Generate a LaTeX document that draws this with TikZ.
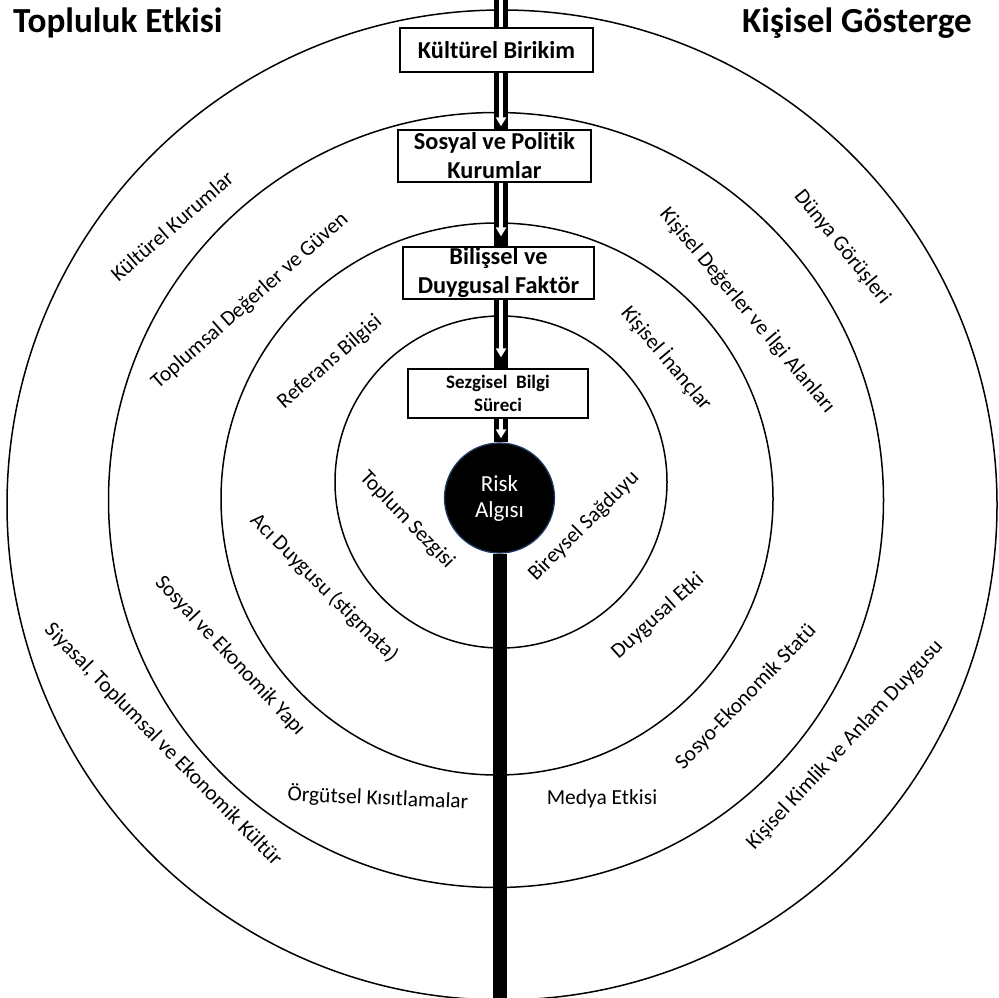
\documentclass[tikz,border=0pt]{standalone}
\usepackage{fontspec}
\setmainfont{Carlito}[Ligatures=NoCommon]
\usetikzlibrary{arrows.meta,calc}
\definecolor{rimblue}{HTML}{1F3864}

\begin{document}
\begin{tikzpicture}[x=1pt,y=-1pt,
  ring/.style={line width=1.5pt, draw=black},
  stage/.style={draw=black, line width=1.3pt, fill=white, inner sep=0pt, align=center,
    font=\fontsize{24.3}{29}\selectfont\bfseries},
  lbl/.style={font=\fontsize{21.5}{26}\selectfont, inner sep=0pt},
  heading/.style={font=\fontsize{35.2}{40}\selectfont\bfseries, inner sep=0pt, anchor=base west},
  pipe/.style={line width=14pt, draw=black},
  stripe/.style={line width=3.5pt, draw=white},
  flow/.style={stripe, -{Triangle[width=10pt,length=9pt]}}]

\useasboundingbox (0,0) rectangle (998,998);
\clip (0,0) rectangle (998,998);

% concentric rings
\draw[ring] (502,505) circle[radius=495pt];
\draw[ring] (496,500) circle[radius=387.5pt];
\draw[ring] (497,499) circle[radius=276pt];
\draw[ring] (501,482) circle[radius=166pt];

% stage boxes along the axis
\node[stage, minimum width=193pt, minimum height=44pt] (b1) at (496.5,50) {Kültürel Birikim};
\node[stage, minimum width=193pt, minimum height=52pt] (b2) at (494.5,156) {Sosyal ve Politik\\Kurumlar};
\node[stage, minimum width=191pt, minimum height=52pt] (b3) at (498.5,273) {Bilişsel ve\\Duygusal Faktör};
\node[stage, minimum width=180pt, minimum height=49pt, font=\fontsize{19}{23}\selectfont\bfseries]
  (b4) at (498,393.5) {Sezgisel\ \ Bilgi\\Süreci};
\node[circle, fill=black, draw=rimblue, line width=1.3pt, minimum size=110pt, inner sep=0pt,
  text=white, align=center, font=\fontsize{23}{26}\selectfont] (risk) at (499.5,498) {Risk\\Algısı};

% axis
\coordinate (top) at (501,0);
\coordinate (bottom) at (500,998);

\draw[pipe] (top) -- (top |- b1.north);
\draw[stripe] (top) -- (top |- b1.north);
\draw[pipe] (top |- b1.south) -- (top |- b2.north);
\draw[flow, shorten >=3pt] (top |- b1.south) -- (top |- b2.north);
\draw[pipe] (top |- b2.south) -- (top |- b3.north);
\draw[flow, shorten >=10pt] (top |- b2.south) -- (top |- b3.north);
\draw[pipe] (top |- b3.south) -- (top |- b4.north);
\draw[flow, shorten >=11pt] (top |- b3.south) -- (top |- b4.north);
\draw[pipe] (top |- b4.south) -- (top |- risk.north);
\draw[flow, shorten >=4pt] (top |- b4.south) -- (top |- risk.north);
\draw[pipe] (bottom |- risk.south) -- (bottom);

% headings
\node[heading] (h1) at (13,33) {Topluluk Etkisi};
\node[heading] (h2) at (742,33) {Kişisel Gösterge};

% left half labels
\node[lbl, rotate=41] (l1) at (172,226) {Kültürel Kurumlar};
\node[lbl, rotate=41.5] (l2) at (250,301) {Toplumsal Değerler ve Güven};
\node[lbl, rotate=41] (l3) at (330,362) {Referans Bilgisi};
\node[lbl, rotate=-46] (l4) at (407,520) {Toplum Sezgisi};
\node[lbl, rotate=-45] (l5) at (324,588) {Acı Duygusu (stigmata)};
\node[lbl, rotate=-47] (l6) at (230,656) {Sosyal ve Ekonomik Yapı};
\node[lbl, rotate=-45.7] (l7) at (163,745) {Siyasal, Toplumsal ve Ekonomik Kültür};
\node[lbl, rotate=-2.5] (l8) at (378,798) {Örgütsel Kısıtlamalar};

% right half labels
\node[lbl, rotate=-51] (r1) at (842,247) {Dünya Görüşleri};
\node[lbl, rotate=-50] (r2) at (748,310) {Kişisel Değerler ve İlgi Alanları};
\node[lbl, rotate=-50] (r3) at (667,358) {Kişisel İnançlar};
\node[lbl, rotate=45] (r4) at (584,526) {Bireysel Sağduyu};
\node[lbl, rotate=42] (r5) at (658,616) {Duygusal Etki};
\node[lbl, rotate=46] (r6) at (746,697) {Sosyo-Ekonomik Statü};
\node[lbl, rotate=47] (r7) at (845,745) {Kişisel Kimlik ve Anlam Duygusu};
\node[lbl] (r8) at (602,799) {Medya Etkisi};
\end{tikzpicture}
\end{document}
